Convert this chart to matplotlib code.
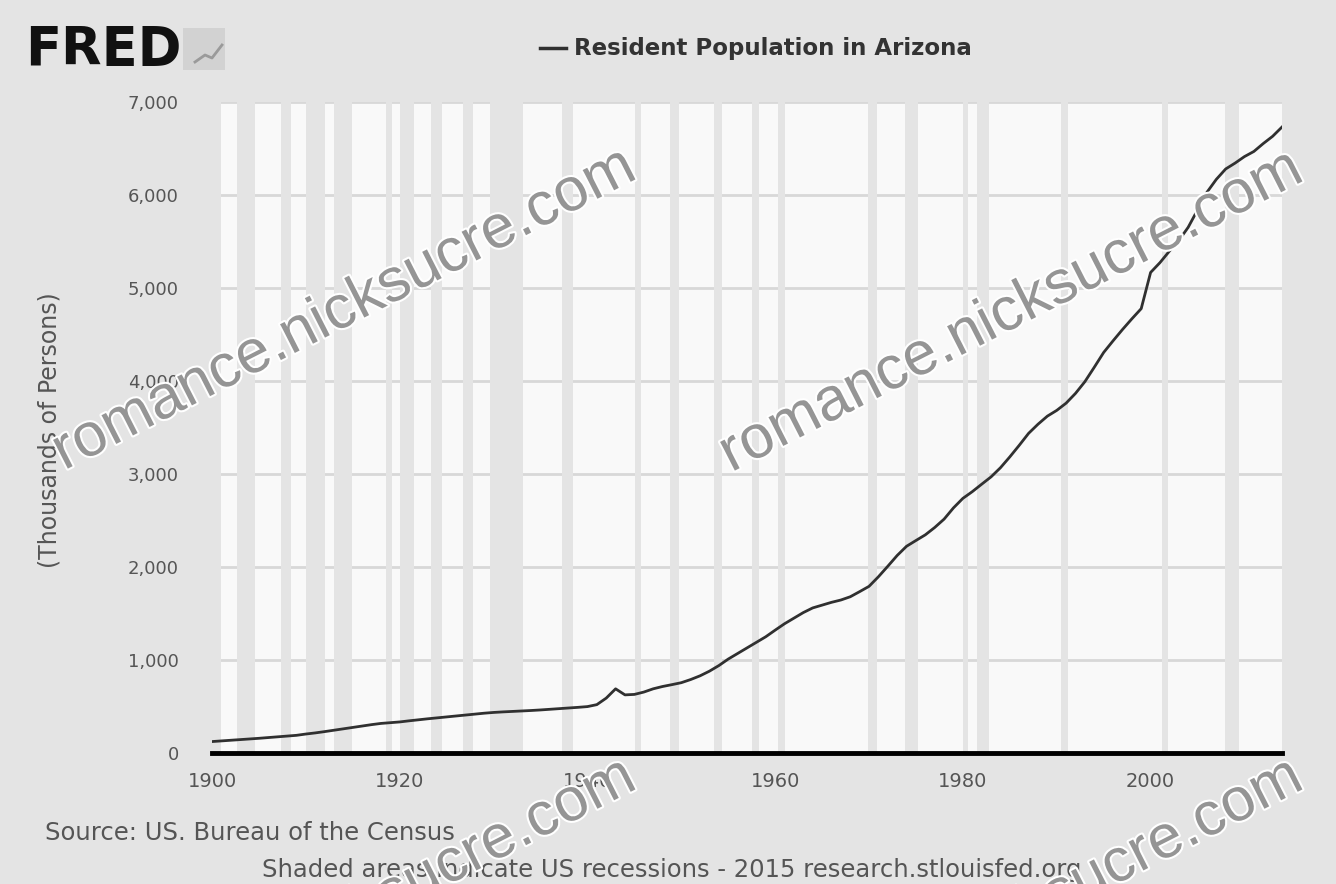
import numpy as np
import matplotlib.pyplot as plt
import matplotlib.patheffects as pe
from matplotlib.patches import Rectangle
from matplotlib.lines import Line2D

# Resident population in Arizona, thousands of persons (annual)
years = np.arange(1900, 2015)
population = [
    123, 130, 137, 144, 151, 158, 166, 174, 182, 190,
    204, 216, 230, 245, 260, 275, 290, 305, 318, 326,
    334, 346, 357, 368, 378, 388, 398, 408, 418, 428,
    436, 442, 447, 452, 457, 463, 470, 477, 484, 491,
    499, 520, 590, 690, 625, 630, 655, 690, 715, 735,
    756, 790, 830, 880, 940, 1010, 1070, 1130, 1190, 1250,
    1321, 1390, 1450, 1510, 1560, 1590, 1620, 1645, 1680, 1735,
    1792, 1895, 2008, 2124, 2223, 2285, 2346, 2425, 2515, 2636,
    2738, 2810, 2890, 2969, 3067, 3184, 3308, 3437, 3535, 3622,
    3684, 3762, 3867, 3993, 4148, 4307, 4432, 4553, 4668, 4778,
    5167, 5273, 5396, 5510, 5652, 5839, 6029, 6168, 6280, 6343,
    6413, 6468, 6553, 6631, 6731,
]

# NBER recessions (fractional years)
rec_start = [1899.42, 1902.67, 1907.33, 1910.0, 1913.0, 1918.58, 1920.0, 1923.33,
             1926.75, 1929.58, 1937.33, 1945.08, 1948.83, 1953.5, 1957.58, 1960.25,
             1969.92, 1973.83, 1980.0, 1981.5, 1990.5, 2001.17, 2007.92]
rec_end = [1900.92, 1904.58, 1908.42, 1912.0, 1914.92, 1919.17, 1921.5, 1924.5,
           1927.83, 1933.17, 1938.42, 1945.75, 1949.75, 1954.33, 1958.25, 1961.08,
           1970.83, 1975.17, 1980.5, 1982.83, 1991.17, 2001.83, 2009.42]

x_ticks = [1900, 1920, 1940, 1960, 1980, 2000]
y_ticks = [0, 1000, 2000, 3000, 4000, 5000, 6000, 7000]

BG = '#e4e4e4'
W, H = 1336, 884

def fx(px):
    return px / W

def fy(py):
    return 1 - py / H

fig = plt.figure(figsize=(W / 100, H / 100), dpi=100, facecolor=BG)
ax = fig.add_axes([fx(212), fy(753), (1282 - 212) / W, (753 - 102) / H])
ax.set_facecolor('#f9f9f9')

for s, e in zip(rec_start, rec_end):
    ax.axvspan(s, e, color=BG, lw=0, zorder=1)

ax.plot(years, population, color='#303030', lw=2, zorder=3)
ax.axhline(0, color='black', lw=3.5, zorder=4, clip_on=False)

ax.set_xlim(years[0], years[-1])
ax.set_ylim(0, 7000)
ax.set_xticks(x_ticks)
ax.set_yticks(y_ticks)
ax.set_yticklabels([f'{v:,}' for v in y_ticks])
ax.yaxis.grid(True, color='#d8d8d8', lw=2)
ax.set_axisbelow(True)
for sp in ax.spines.values():
    sp.set_visible(False)
ax.tick_params(length=0, labelcolor='#555555')
ax.tick_params(axis='y', pad=24, labelsize=13)
ax.tick_params(axis='x', pad=14, labelsize=14)

fig.text(fx(50), fy(430), '(Thousands of Persons)', rotation=90, ha='center',
         va='center', fontsize=17, color='#555555')

# header
fig.text(fx(25), fy(50), 'FRED', fontsize=38, fontweight='heavy', color='#111111',
         va='center', ha='left')
fig.add_artist(Rectangle((fx(183), fy(70)), 42 / W, 42 / H, transform=fig.transFigure,
                         facecolor='#d2d2d2', edgecolor='none'))
fig.add_artist(Line2D([fx(195), fx(205), fx(212), fx(222)],
                      [fy(62), fy(55), fy(58), fy(45)], transform=fig.transFigure,
                      color='#9a9a9a', lw=2))
fig.add_artist(Line2D([fx(540), fx(566)], [fy(48), fy(48)], transform=fig.transFigure,
                      color='#303030', lw=2.5))
fig.text(fx(574), fy(48), 'Resident Population in Arizona', fontsize=16.5,
         fontweight='bold', color='#333333', va='center', ha='left')

# footer
fig.text(fx(45), fy(833), 'Source: US. Bureau of the Census', fontsize=17.5,
         color='#555555', va='center', ha='left')
fig.text(fx(672), fy(870), 'Shaded areas indicate US recessions - 2015 research.stlouisfed.org',
         fontsize=17.5, color='#555555', va='center', ha='center')

# watermark
wm = dict(fontsize=44, family='Liberation Sans', color='#959595', rotation=27,
          rotation_mode='anchor', ha='center', va='center', zorder=10,
          path_effects=[pe.withStroke(linewidth=3, foreground='white')])
for cx, cy in [(345, 310), (1012, 312), (345, 920), (1012, 920)]:
    fig.text(fx(cx), fy(cy), 'romance.nicksucre.com', **wm)

fig.savefig('out.png', dpi=100, facecolor=BG)
